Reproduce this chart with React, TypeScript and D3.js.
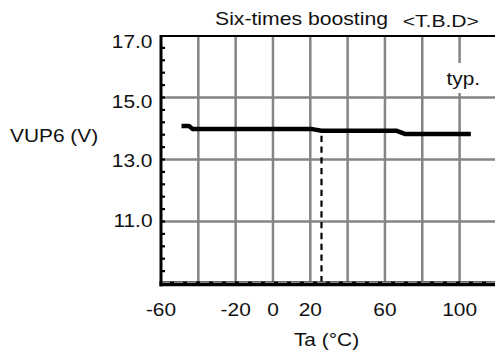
import React from "react";
import * as d3 from "d3";

const temps = [-49, -45, -43, 21, 26, 66, 71, 106];
const vup6 = [14.08, 14.08, 13.98, 13.98, 13.93, 13.93, 13.82, 13.82];
const xTickLabels = [-60, -20, 0, 20, 60, 100];
const xGrid = [-40, -20, 0, 20, 40, 60, 80, 100, 120];
const yTickLabels = [17, 15, 13, 11];
const yGrid = [15, 13, 11];
const minorTicks = d3.range(9.4, 17, 0.4);
const refTemp = 26;

const W = 495;
const H = 354;
const FONT = "'Liberation Sans', Arial, Helvetica, sans-serif";

const x = d3.scaleLinear().domain([-60, 100]).range([161, 459.6]);
const y = d3.scaleLinear().domain([9, 17]).range([283.5, 35.5]);
const yLabel = d3.scaleLinear().domain([17, 11]).range([48.3, 226.9]);

function Txt({ x: tx, y: ty, anchor = "start", size = 18.5, sx = 1.13, children }: any) {
  return (
    <text
      transform={`translate(${tx},${ty}) scale(${sx},1)`}
      textAnchor={anchor}
      fontSize={size}
      fontFamily={FONT}
      fill="#111"
    >
      {children}
    </text>
  );
}

export default function App() {
  const left = x(-60);
  const right = W;
  const top = y(17);
  const bottom = y(9);
  const pts = temps.map((t, i) => [x(t), y(vup6[i])] as [number, number]);
  const line = d3.line().curve(d3.curveLinear)(pts) || "";
  const refV = vup6[temps.indexOf(refTemp)];

  return (
    <svg
      width={W}
      height={H}
      style={{ position: "absolute", left: 0, top: 0, display: "block", background: "#fff" }}
    >
      <rect x={0} y={0} width={W} height={H} fill="#fff" />
      {/* grid */}
      {xGrid.map((t) => (
        <line key={"gx" + t} x1={x(t)} x2={x(t)} y1={top} y2={bottom} stroke="#858585" strokeWidth={2.5} />
      ))}
      {yGrid.map((v) => (
        <line key={"gy" + v} x1={left} x2={right} y1={y(v)} y2={y(v)} stroke="#858585" strokeWidth={2.4} />
      ))}
      {/* typ. label with white background */}
      <rect x={446} y={63} width={35} height={30} fill="#fff" />
      <Txt x={463.3} y={85} anchor="middle">typ.</Txt>
      {/* top border */}
      <line x1={left} x2={right} y1={top + 0.5} y2={top + 0.5} stroke="#000" strokeWidth={2} />
      {/* bottom band */}
      <line x1={left - 1.5} x2={right} y1={bottom + 0.3} y2={bottom + 0.3} stroke="#000" strokeWidth={5} />
      <line x1={left} x2={right} y1={bottom - 1.3} y2={bottom - 1.3} stroke="#c8c8c8" strokeWidth={1} strokeDasharray="9 4" />
      {/* left axis */}
      <line x1={left} x2={left} y1={top - 0.5} y2={bottom + 2.8} stroke="#000" strokeWidth={3} />
      {minorTicks.map((v) => (
        <line key={"mt" + v.toFixed(1)} x1={left} x2={left + 4} y1={y(v)} y2={y(v)} stroke="#000" strokeWidth={2.2} />
      ))}
      {/* reference dashed line */}
      <line
        x1={x(refTemp)}
        x2={x(refTemp)}
        y1={y(refV) + 5}
        y2={bottom - 2}
        stroke="#000"
        strokeWidth={2.2}
        strokeDasharray="6.3 4.5"
      />
      {/* data line */}
      <path d={line} fill="none" stroke="#000" strokeWidth={4.5} strokeLinecap="butt" strokeLinejoin="round" />
      {/* y labels */}
      {yTickLabels.map((v) => (
        <Txt key={"yl" + v} x={152.5} y={yLabel(v)} anchor="end">{v.toFixed(1)}</Txt>
      ))}
      {/* x labels */}
      {xTickLabels.map((t) => (
        <Txt key={"xl" + t} x={x(t)} y={316} anchor="middle">{String(t)}</Txt>
      ))}
      {/* titles */}
      <Txt x={301.5} y={25} anchor="middle" sx={1.145}>Six-times boosting</Txt>
      <Txt x={440.8} y={26.7} anchor="middle" size={16.5} sx={1.28}>{"<T.B.D>"}</Txt>
      <Txt x={10} y={142}>VUP6 (V)</Txt>
      <Txt x={326.5} y={346} anchor="middle">Ta (°C)</Txt>
    </svg>
  );
}
